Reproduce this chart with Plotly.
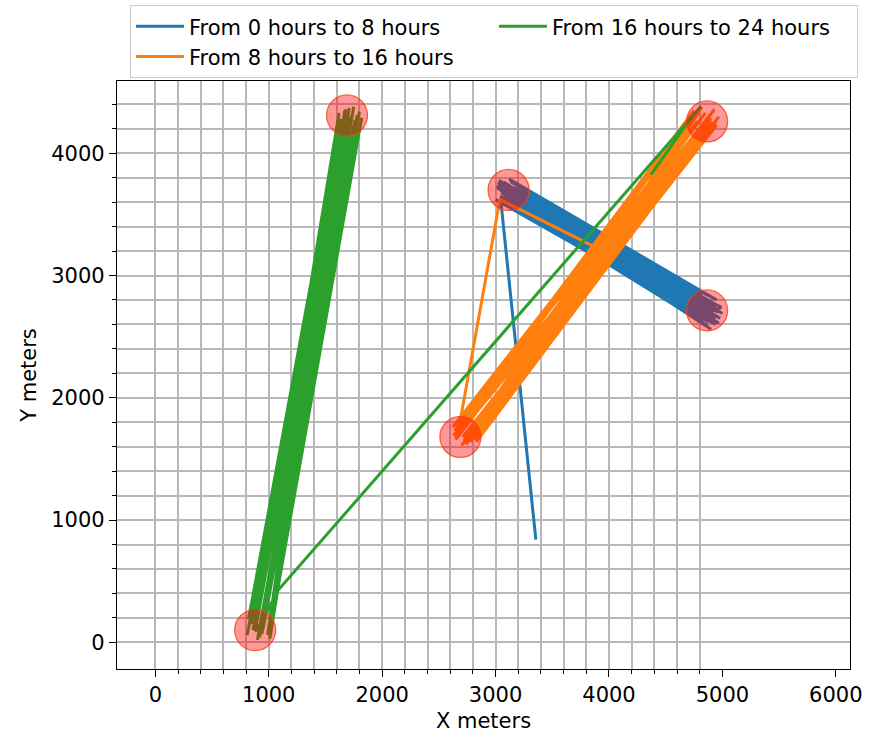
import plotly.graph_objects as go

# ---------------- data ----------------
blue_x = [3060, 3020, 3080, 4890, 4930, 3110, 4850, 3040, 4960, 4920, 3150, 4800, 3030, 4980,
          3090, 4870, 3170, 4770, 3010, 4950, 3120, 4900, 3050, 4840, 4990, 3140, 4760, 3070,
          4940, 3000, 4820, 3130, 5000, 3040, 4880, 3100, 4790, 3160, 4910, 3080, 4860, 3020,
          4970, 3045, 3355]
blue_y = [3770, 3700, 3760, 2710, 2640, 3720, 2790, 3650, 2700, 2760, 3690, 2740, 3780, 2650,
          3610, 2590, 3750, 2830, 3730, 2800, 3790, 2560, 3680, 2680, 2740, 3640, 2770, 3740,
          2600, 3620, 2850, 3770, 2690, 3700, 2620, 3660, 2700, 3720, 2780, 3700, 2730, 3760,
          2610, 3623, 840]

orange_x = [3040, 2674, 2650, 2700, 4780, 2720, 4850, 2660, 4730, 2760, 4900, 2630, 4820, 2740,
            4950, 2690, 4760, 2810, 4880, 2640, 4700, 2730, 4930, 2780, 4800, 2670, 4970, 2820,
            4840, 2700, 4750, 2650, 4910, 2790, 4860, 2620, 4790, 2830, 4940, 2710, 4870, 4042,
            3036]
orange_y = [3630, 1740, 1660, 1720, 4260, 1650, 4330, 1780, 4200, 1700, 4290, 1690, 4380, 1620,
            4230, 1770, 4310, 1660, 4180, 1730, 4240, 1790, 4360, 1640, 4170, 1700, 4300, 1720,
            4220, 1610, 4350, 1750, 4260, 1690, 4270, 1760, 4330, 1640, 4250, 1680, 4210, 3156,
            3623]

green_x = [4370, 4695, 4810, 1074, 960, 880, 1720, 850, 1680, 920, 1770, 1000, 1640, 830, 1800,
           900, 1700, 970, 1750, 810, 1660, 1030, 1820, 870, 1620, 940, 1730, 1010, 1690, 820,
           1780, 950, 1710, 890, 1650, 990, 1760, 860, 1700, 930, 1790, 1020, 1670]
green_y = [3826, 4253, 4383, 417, 200, 90, 4300, 150, 4360, 40, 4230, 120, 4280, 230, 4340,
           20, 4170, 250, 4380, 60, 4200, 180, 4290, 130, 4330, 70, 4150, 30, 4250, 190,
           4310, 110, 4370, 240, 4230, 60, 4270, 100, 4320, 160, 4200, 220, 4350]

loc_x = [1690, 880, 3115, 4865, 4865, 2690]
loc_y = [4310, 100, 3700, 4260, 2715, 1680]

series_names = ["From 0 hours to 8 hours", "From 8 hours to 16 hours", "From 16 hours to 24 hours"]
series_colors = ["#1f77b4", "#ff7f0e", "#2ca02c"]
legend_ranks = [1, 3, 2]

x_major = [0, 1000, 2000, 3000, 4000, 5000, 6000]
y_major = [0, 1000, 2000, 3000, 4000]
x_minor = list(range(0, 4900, 200))
y_minor = list(range(0, 4500, 200))
x_range = [-338, 6125]
y_range = [-218, 4591]

FONT = "DejaVu Sans"
FS = 21

fig = go.Figure()
for xs, ys, name, col, rk in zip([blue_x, orange_x, green_x], [blue_y, orange_y, green_y],
                                 series_names, series_colors, legend_ranks):
    fig.add_trace(go.Scatter(x=xs, y=ys, mode="lines", name=name,
                             line=dict(color=col, width=3), legendrank=rk))

fig.add_trace(go.Scatter(x=loc_x, y=loc_y, mode="markers", showlegend=False,
                         marker=dict(size=41, color="rgba(255,0,0,0.4)",
                                     line=dict(color="rgba(255,60,20,0.8)", width=1.3))))

axis_common = dict(
    showline=True, linecolor="black", linewidth=1.3, mirror=True,
    ticks="outside", ticklen=7, tickwidth=1.3, tickcolor="black",
    showgrid=False, zeroline=False,
    tickfont=dict(family=FONT, size=FS, color="black"),
)

fig.update_xaxes(
    range=x_range, tickmode="array", tickvals=x_major,
    ticktext=[str(v) for v in x_major],
    minor=dict(tickmode="array", tickvals=x_minor, ticks="outside", ticklen=4,
               tickwidth=1.1, tickcolor="black", showgrid=True,
               gridcolor="#b8b8b8", gridwidth=1.5),
    title=dict(text="X meters", font=dict(family=FONT, size=FS, color="black"), standoff=6),
    **axis_common)
fig.update_yaxes(
    range=y_range, tickmode="array", tickvals=y_major,
    ticktext=[str(v) for v in y_major],
    minor=dict(tickmode="array", tickvals=y_minor, ticks="outside", ticklen=4,
               tickwidth=1.1, tickcolor="black", showgrid=True,
               gridcolor="#b8b8b8", gridwidth=1.5),
    title=dict(text="Y meters", font=dict(family=FONT, size=FS, color="black"), standoff=8),
    **axis_common)

fig.update_layout(
    width=874, height=736,
    margin=dict(l=117, r=24, t=81, b=67, autoexpand=False),
    paper_bgcolor="white", plot_bgcolor="white",
    font=dict(family=FONT, size=FS, color="black"),
    legend=dict(orientation="h", x=0.0177, xanchor="left", y=1.129, yanchor="top",
                entrywidth=300, itemwidth=48,
                bgcolor="white", bordercolor="#cccccc", borderwidth=1,
                font=dict(family=FONT, size=FS, color="black")),
)

fig.write_html("out.html")
